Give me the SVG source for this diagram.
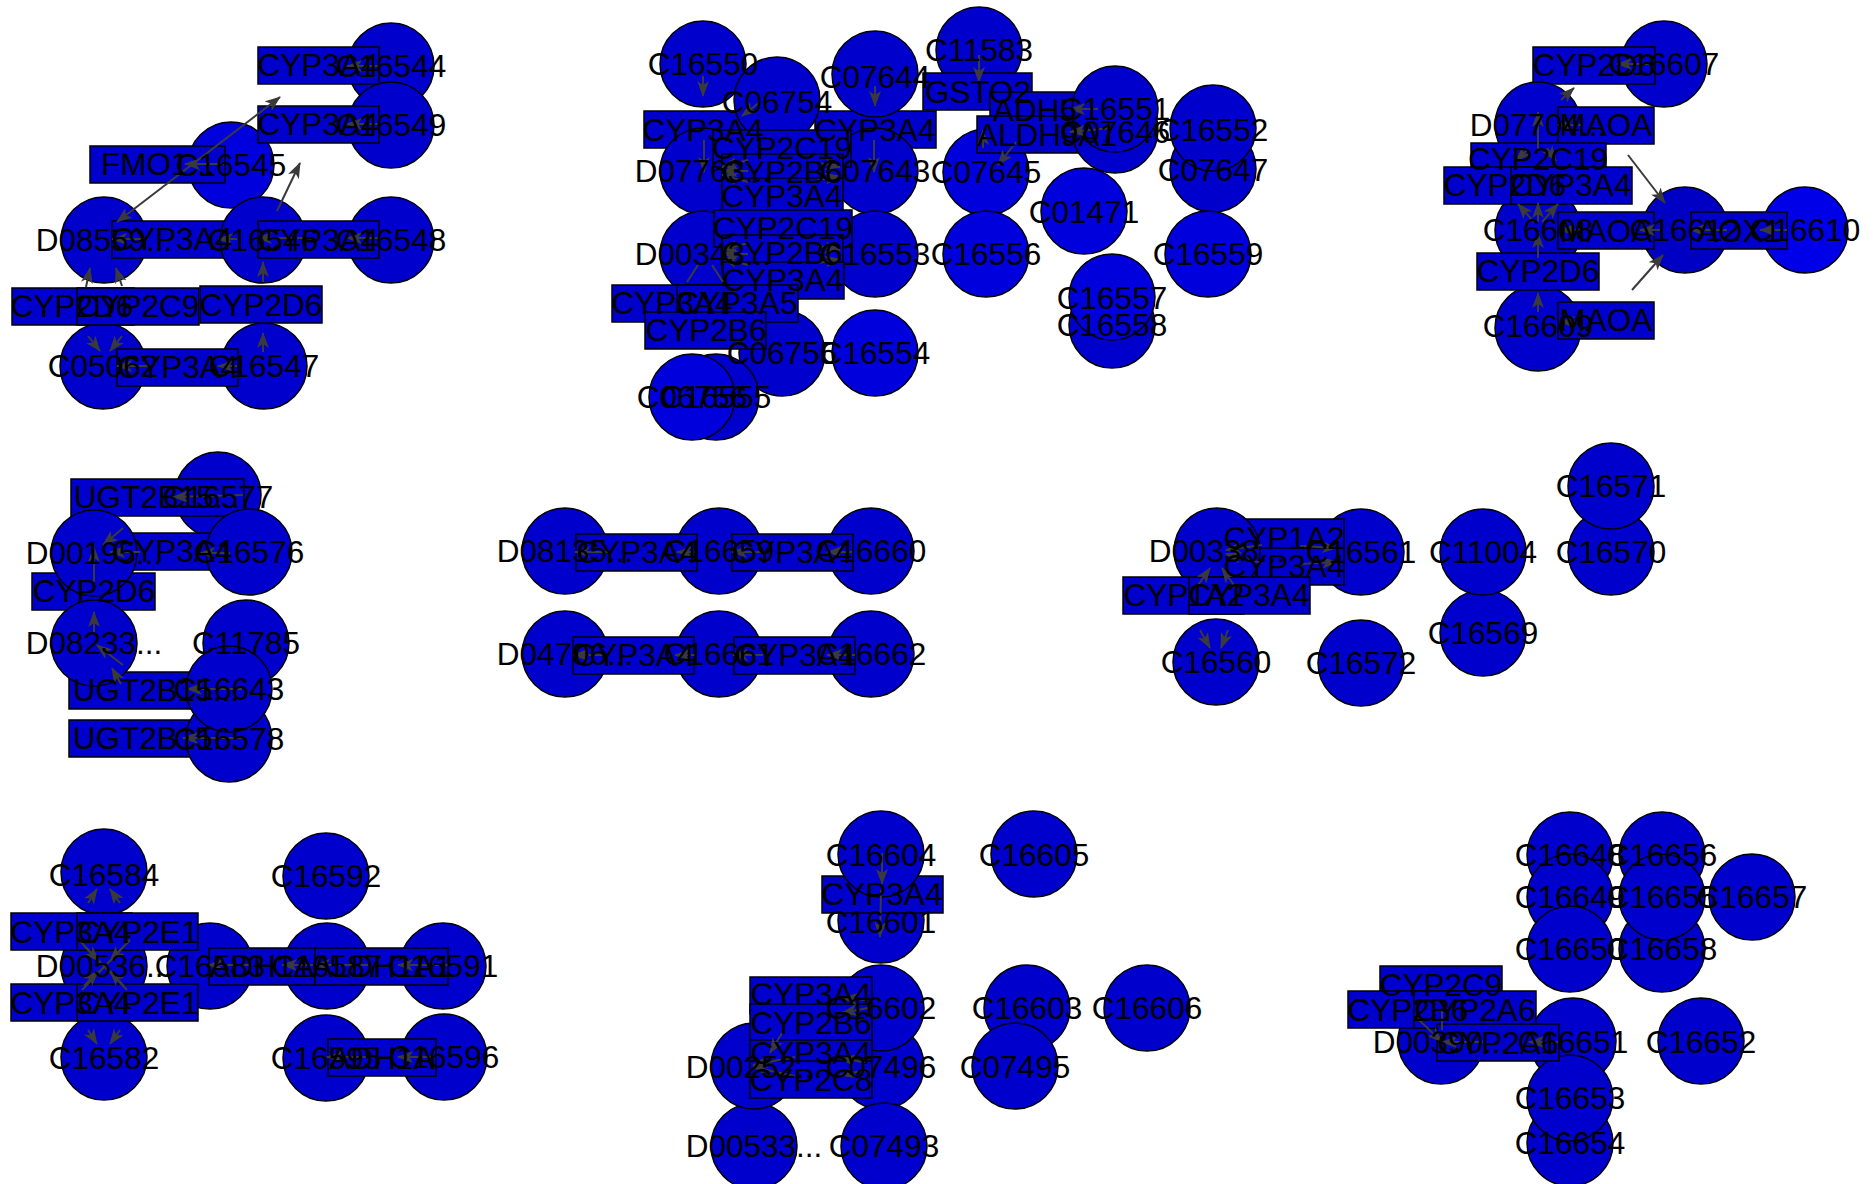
<svg xmlns="http://www.w3.org/2000/svg" width="1874" height="1184" viewBox="0 0 1874 1184">
<style>
.c{fill:#0000CC;stroke:#000;stroke-width:1.5}
.c2{fill:#0000DD;stroke:#000;stroke-width:1.5}
.r{fill:#0000CC;stroke:#000;stroke-width:1.5}
.e{stroke:#3a3a3a;stroke-width:2;fill:none;marker-end:url(#ah)}
.t{font-family:"Liberation Sans",Arial,sans-serif;font-size:31.5px;text-anchor:middle;fill:#000}
</style>
<defs>
<marker id="ah" viewBox="0 0 16 12" refX="15" refY="6" markerWidth="16" markerHeight="12" markerUnits="userSpaceOnUse" orient="auto"><path d="M0,0 L16,6 L0,12 L4,6 z" fill="#3a3a3a"/></marker>
<marker id="as" viewBox="0 0 16 12" refX="15" refY="6" markerWidth="16" markerHeight="12" markerUnits="userSpaceOnUse" orient="auto-start-reverse"><path d="M0,0 L16,6 L0,12 L4,6 z" fill="#3a3a3a"/></marker>
</defs>
<rect width="1874" height="1184" fill="#fff"/>
<g id="nodes">
<!-- top-left -->
<g id="n-C16544"><circle class="c" cx="391" cy="66" r="43"/></g>
<g id="n-C16549"><circle class="c" cx="391" cy="125" r="43"/></g>
<g id="n-C16545"><circle class="c2" cx="231" cy="165" r="43"/></g>
<g id="n-D08559"><circle class="c" cx="104" cy="240" r="43"/></g>
<g id="n-C05062"><circle class="c" cx="103" cy="366" r="43"/></g>
<g id="n-C16547"><circle class="c" cx="264" cy="366" r="43"/></g>
<g id="n-C16548"><circle class="c" cx="391" cy="240" r="43"/></g>
<g id="n-CYP3A4-a1"><rect class="r" x="258" y="47" width="121" height="37"/></g>
<g id="n-CYP3A4-a2"><rect class="r" x="258" y="106" width="121" height="37"/></g>
<g id="n-FMO1"><rect class="r" x="90" y="146" width="135" height="37"/></g>
<g id="n-CYP3A4-a3"><rect class="r" x="112" y="221" width="121" height="37"/></g>
<g id="n-C16546"><circle class="c" cx="263" cy="240" r="43"/></g>
<g id="n-CYP3A4-a4"><rect class="r" x="258" y="221" width="121" height="37"/></g>
<g id="n-CYP2D6-a1"><rect class="r" x="12" y="288" width="122" height="37"/></g>
<g id="n-CYP2C9-a1"><rect class="r" x="77" y="288" width="122" height="37"/></g>
<g id="n-CYP2D6-a2"><rect class="r" x="200" y="286" width="122" height="37"/></g>
<g id="n-CYP3A4-a5"><rect class="r" x="117" y="349" width="121" height="37"/></g>
<!-- top-middle -->
<g id="n-CYP3A4-b1"><rect class="r" x="644" y="111" width="120" height="37"/></g>
<g id="n-CYP3A4-b2"><rect class="r" x="815" y="111" width="121" height="37"/></g>
<g id="n-C16550"><circle class="c" cx="703" cy="64" r="43"/></g>
<g id="n-C06754"><circle class="c" cx="777" cy="100" r="43"/></g>
<g id="n-C07644"><circle class="c" cx="875" cy="74" r="43"/></g>
<g id="n-C11583"><circle class="c" cx="979" cy="50" r="43"/></g>
<g id="n-D07763"><circle class="c" cx="703" cy="171" r="43"/></g>
<g id="n-C07643"><circle class="c" cx="875" cy="171" r="43"/></g>
<g id="n-C07645"><circle class="c2" cx="986" cy="172" r="43"/></g>
<g id="n-GSTO2"><rect class="r" x="923" y="73" width="109" height="37"/></g>
<g id="n-ADH5"><rect class="r" x="990" y="92" width="90" height="37"/></g>
<g id="n-ALDH9A1"><rect class="r" x="977" y="116" width="140" height="37"/></g>
<g id="n-C07646"><circle class="c" cx="1115" cy="130" r="43"/></g>
<g id="n-C16551"><circle class="c" cx="1115" cy="109" r="43"/></g>
<g id="n-C07647"><circle class="c" cx="1213" cy="169" r="43"/></g>
<g id="n-C16552"><circle class="c" cx="1213" cy="128" r="43"/></g>
<g id="n-C01471"><circle class="c2" cx="1084" cy="211" r="43"/></g>
<g id="n-D00343"><circle class="c" cx="703" cy="254" r="43"/></g>
<g id="n-C16553"><circle class="c" cx="875" cy="254" r="43"/></g>
<g id="n-C16556"><circle class="c2" cx="986" cy="254" r="43"/></g>
<g id="n-C16559"><circle class="c2" cx="1208" cy="254" r="43"/></g>
<g id="n-C16558"><circle class="c" cx="1112" cy="325" r="43"/></g>
<g id="n-C16557"><circle class="c2" cx="1112" cy="297" r="43"/></g>
<g id="n-C06755"><circle class="c" cx="782" cy="353" r="43"/></g>
<g id="n-C16554"><circle class="c2" cx="875" cy="353" r="43"/></g>
<g id="n-C06756"><circle class="c" cx="716" cy="397" r="43"/></g>
<g id="n-C16555"><circle class="c2" cx="692" cy="397" r="43"/></g>
<g id="n-CYP2C19-b1"><rect class="r" x="713" y="130" width="138" height="37"/></g>
<g id="n-CYP2B6-b1"><rect class="r" x="722" y="154" width="121" height="37"/></g>
<g id="n-CYP3A4-b3"><rect class="r" x="722" y="178" width="121" height="37"/></g>
<g id="n-CYP2C19-b2"><rect class="r" x="714" y="210" width="138" height="37"/></g>
<g id="n-CYP2B6-b2"><rect class="r" x="722" y="235" width="121" height="37"/></g>
<g id="n-CYP3A4-b4"><rect class="r" x="723" y="262" width="121" height="37"/></g>
<g id="n-CYP3A4-b5"><rect class="r" x="612" y="285" width="121" height="37"/></g>
<g id="n-CYP3A5-b1"><rect class="r" x="677" y="285" width="121" height="37"/></g>
<g id="n-CYP2B6-b3"><rect class="r" x="645" y="312" width="121" height="37"/></g>
<!-- top-right -->
<g id="n-C16607"><circle class="c" cx="1664" cy="64" r="43"/></g>
<g id="n-CYP2D6-c1"><rect class="r" x="1533" y="47" width="122" height="37"/></g>
<g id="n-D07704"><circle class="c" cx="1538" cy="125" r="43"/></g>
<g id="n-MAOA-c1"><rect class="r" x="1558" y="107" width="96" height="37"/></g>
<g id="n-C16608"><circle class="c" cx="1538" cy="230" r="43"/></g>
<g id="n-CYP2C19-c1"><rect class="r" x="1471" y="143" width="135" height="37"/></g>
<g id="n-CYP2D6-c2"><rect class="r" x="1444" y="167" width="122" height="37"/></g>
<g id="n-CYP3A4-c1"><rect class="r" x="1511" y="167" width="121" height="37"/></g>
<g id="n-C16612"><circle class="c" cx="1685" cy="230" r="43" style="fill:#0000C4"/></g>
<g id="n-C16610"><circle class="c" cx="1805" cy="230" r="43" style="fill:#0000E8"/></g>
<g id="n-MAOA-c2"><rect class="r" x="1558" y="212" width="96" height="37"/></g>
<g id="n-AOX1"><rect class="r" x="1691" y="212" width="96" height="37"/></g>
<g id="n-C16609"><circle class="c" cx="1538" cy="328" r="43"/></g>
<g id="n-CYP2D6-c3"><rect class="r" x="1477" y="253" width="122" height="37"/></g>
<g id="n-MAOA-c3"><rect class="r" x="1558" y="302" width="96" height="37"/></g>
<!-- mid-left -->
<g id="n-C16577"><circle class="c" cx="218" cy="495" r="43"/></g>
<g id="n-UGT2B-d1"><rect class="r" x="71" y="479" width="173" height="37"/></g>
<g id="n-CYP3A4-d1"><rect class="r" x="111" y="533" width="121" height="37"/></g>
<g id="n-CYP2D6-d1"><rect class="r" x="32" y="573" width="123" height="37"/></g>
<g id="n-UGT2B-d2"><rect class="r" x="69" y="672" width="174" height="37"/></g>
<g id="n-UGT2B-d3"><rect class="r" x="69" y="720" width="174" height="37"/></g>
<g id="n-D00195"><circle class="c" cx="94" cy="553" r="43"/></g>
<g id="n-C16576"><circle class="c" cx="249" cy="552" r="43"/></g>
<g id="n-D08233"><circle class="c" cx="94" cy="643" r="43"/></g>
<g id="n-C11785"><circle class="c" cx="246" cy="643" r="43"/></g>
<g id="n-C16578"><circle class="c" cx="229" cy="739" r="43"/></g>
<g id="n-C16643"><circle class="c" cx="229" cy="689" r="43"/></g>
<!-- mid-middle -->
<g id="n-D08135"><circle class="c" cx="565" cy="551" r="43"/></g>
<g id="n-C16659"><circle class="c" cx="719" cy="551" r="43"/></g>
<g id="n-C16660"><circle class="c" cx="871" cy="551" r="43"/></g>
<g id="n-D04706"><circle class="c" cx="565" cy="654" r="43"/></g>
<g id="n-C16661"><circle class="c" cx="719" cy="654" r="43"/></g>
<g id="n-C16662"><circle class="c" cx="871" cy="654" r="43"/></g>
<g id="n-CYP3A4-e1"><rect class="r" x="576" y="534" width="121" height="37"/></g>
<g id="n-CYP3A4-e2"><rect class="r" x="732" y="534" width="121" height="37"/></g>
<g id="n-CYP3A4-e3"><rect class="r" x="573" y="637" width="121" height="37"/></g>
<g id="n-CYP3A4-e4"><rect class="r" x="734" y="637" width="121" height="37"/></g>
<!-- mid-right -->
<g id="n-C16561"><circle class="c" cx="1361" cy="552" r="43"/></g>
<g id="n-CYP1A2-f1"><rect class="r" x="1223" y="519" width="121" height="37"/></g>
<g id="n-CYP3A4-f1"><rect class="r" x="1223" y="548" width="121" height="37"/></g>
<g id="n-D00338"><circle class="c" cx="1217" cy="551" r="43"/></g>
<g id="n-CYP1A2-f2"><rect class="r" x="1123" y="577" width="121" height="37"/></g>
<g id="n-CYP3A4-f2"><rect class="r" x="1189" y="577" width="121" height="37"/></g>
<g id="n-C16569"><circle class="c" cx="1483" cy="633" r="43"/></g>
<g id="n-C11004"><circle class="c" cx="1483" cy="552" r="43"/></g>
<g id="n-C16570"><circle class="c" cx="1611" cy="552" r="43"/></g>
<g id="n-C16571"><circle class="c" cx="1611" cy="486" r="43"/></g>
<g id="n-C16560"><circle class="c" cx="1216" cy="662" r="43"/></g>
<g id="n-C16572"><circle class="c" cx="1361" cy="663" r="43"/></g>
<!-- bottom-left -->
<g id="n-C16584"><circle class="c" cx="104" cy="872" r="43"/></g>
<g id="n-C16592"><circle class="c" cx="326" cy="876" r="43"/></g>
<g id="n-D00536"><circle class="c" cx="104" cy="966" r="43"/></g>
<g id="n-C16583"><circle class="c" cx="210" cy="966" r="43"/></g>
<g id="n-C16587"><circle class="c" cx="327" cy="966" r="43"/></g>
<g id="n-C16591"><circle class="c" cx="443" cy="966" r="43"/></g>
<g id="n-C16582"><circle class="c" cx="104" cy="1057" r="43"/></g>
<g id="n-C16595"><circle class="c" cx="326" cy="1058" r="43"/></g>
<g id="n-C16596"><circle class="c" cx="444" cy="1057" r="43"/></g>
<g id="n-CYP3A4-g1"><rect class="r" x="11" y="913" width="121" height="37"/></g>
<g id="n-CYP2E1-g1"><rect class="r" x="77" y="913" width="121" height="37"/></g>
<g id="n-CYP3A4-g2"><rect class="r" x="11" y="984" width="121" height="37"/></g>
<g id="n-CYP2E1-g2"><rect class="r" x="77" y="984" width="121" height="37"/></g>
<g id="n-ADH1A-g1"><rect class="r" x="209" y="948" width="106" height="37"/></g>
<g id="n-ALDH1A1-g1"><rect class="r" x="315" y="948" width="133" height="37"/></g>
<g id="n-ADH1A-g2"><rect class="r" x="328" y="1039" width="108" height="37"/></g>
<!-- bottom-middle -->
<g id="n-C16601"><circle class="c" cx="881" cy="920" r="43"/></g>
<g id="n-CYP3A4-h1"><rect class="r" x="822" y="876" width="121" height="37"/></g>
<g id="n-C16604"><circle class="c" cx="881" cy="854" r="43"/></g>
<g id="n-C16605"><circle class="c" cx="1034" cy="854" r="43"/></g>
<g id="n-C07496"><circle class="c" cx="881" cy="1066" r="43"/></g>
<g id="n-C16602"><circle class="c" cx="881" cy="1008" r="43"/></g>
<g id="n-C16603"><circle class="c" cx="1027" cy="1008" r="43"/></g>
<g id="n-C07495"><circle class="c" cx="1015" cy="1066" r="43"/></g>
<g id="n-C16606"><circle class="c" cx="1147" cy="1008" r="43"/></g>
<g id="n-D00533"><circle class="c" cx="754" cy="1146" r="43"/></g>
<g id="n-D00252"><circle class="c" cx="754" cy="1066" r="43"/></g>
<g id="n-C07493"><circle class="c" cx="884" cy="1146" r="43"/></g>
<g id="n-CYP3A4-h2"><rect class="r" x="750" y="977" width="122" height="37"/></g>
<g id="n-CYP2B6-h1"><rect class="r" x="750" y="1004" width="122" height="37"/></g>
<g id="n-CYP3A4-h3"><rect class="r" x="750" y="1040" width="122" height="37"/></g>
<g id="n-CYP2C8-h1"><rect class="r" x="750" y="1061" width="122" height="37"/></g>
<!-- bottom-right -->
<g id="n-C16648"><circle class="c" cx="1570" cy="855" r="43"/></g>
<g id="n-C16649"><circle class="c" cx="1570" cy="897" r="43"/></g>
<g id="n-C16650"><circle class="c" cx="1570" cy="949" r="43"/></g>
<g id="n-C16656"><circle class="c" cx="1662" cy="855" r="43"/></g>
<g id="n-C16658"><circle class="c" cx="1662" cy="949" r="43"/></g>
<g id="n-C16655"><circle class="c" cx="1662" cy="897" r="43"/></g>
<g id="n-C16657"><circle class="c" cx="1752" cy="897" r="43"/></g>
<g id="n-D00390"><circle class="c" cx="1441" cy="1041" r="43"/></g>
<g id="n-C16651"><circle class="c" cx="1573" cy="1041" r="43"/></g>
<g id="n-C16652"><circle class="c" cx="1701" cy="1041" r="43"/></g>
<g id="n-C16654"><circle class="c" cx="1570" cy="1143" r="43"/></g>
<g id="n-C16653"><circle class="c" cx="1570" cy="1098" r="43"/></g>
<g id="n-CYP2C9-i1"><rect class="r" x="1380" y="966" width="122" height="37"/></g>
<g id="n-CYP2B6-i1"><rect class="r" x="1348" y="991" width="121" height="37"/></g>
<g id="n-CYP2A6-i1"><rect class="r" x="1414" y="991" width="122" height="37"/></g>
<g id="n-CYP2A6-i2"><rect class="r" x="1437" y="1024" width="122" height="37"/></g>
</g>
<g id="connectors">
<!-- top-left -->
<line class="e" x1="378" y1="66" x2="347" y2="66"/>
<line class="e" x1="378" y1="124" x2="347" y2="124"/>
<line class="e" x1="117" y1="222" x2="280" y2="97" marker-start="url(#as)"/>
<line class="e" x1="224" y1="164" x2="185" y2="164"/>
<line class="e" x1="277" y1="211" x2="300" y2="163"/>
<line class="e" x1="148" y1="239" x2="112" y2="239"/>
<line class="e" x1="237" y1="239" x2="218" y2="239"/>
<line class="e" x1="307" y1="238" x2="257" y2="238"/>
<line class="e" x1="378" y1="238" x2="347" y2="238"/>
<line class="e" x1="86" y1="287" x2="90" y2="268"/>
<line class="e" x1="122" y1="286" x2="116" y2="268"/>
<line class="e" x1="263" y1="282" x2="263" y2="262"/>
<line class="e" x1="88" y1="336" x2="100" y2="351"/>
<line class="e" x1="122" y1="336" x2="110" y2="351"/>
<line class="e" x1="148" y1="366" x2="117" y2="366"/>
<line class="e" x1="237" y1="366" x2="218" y2="366"/>
<line class="e" x1="263" y1="352" x2="263" y2="333"/>
<!-- top-middle -->
<line class="e" x1="703" y1="76" x2="703" y2="96"/>
<line class="e" x1="760" y1="102" x2="742" y2="116"/>
<line class="e" x1="875" y1="86" x2="875" y2="106"/>
<line class="e" x1="979" y1="55" x2="979" y2="82"/>
<line class="e" x1="704" y1="140" x2="704" y2="172"/>
<line class="e" x1="874" y1="140" x2="874" y2="172"/>
<line class="e" x1="748" y1="160" x2="722" y2="167"/>
<line class="e" x1="748" y1="171" x2="722" y2="171"/>
<line class="e" x1="748" y1="182" x2="722" y2="175"/>
<line class="e" x1="818" y1="163" x2="840" y2="167"/>
<line class="e" x1="818" y1="180" x2="840" y2="176"/>
<line class="e" x1="748" y1="243" x2="722" y2="250"/>
<line class="e" x1="748" y1="254" x2="722" y2="254"/>
<line class="e" x1="748" y1="265" x2="722" y2="258"/>
<line class="e" x1="818" y1="246" x2="840" y2="250"/>
<line class="e" x1="818" y1="263" x2="840" y2="259"/>
<line stroke="#3a3a3a" stroke-width="2" x1="698" y1="265" x2="687" y2="282"/>
<line stroke="#3a3a3a" stroke-width="2" x1="712" y1="265" x2="723" y2="282"/>
<line class="e" x1="1098" y1="109" x2="1070" y2="109"/>
<line class="e" x1="1111" y1="128" x2="1070" y2="132"/>
<line class="e" x1="1016" y1="142" x2="998" y2="165"/>
<line class="e" x1="983" y1="148" x2="983" y2="130"/>
<!-- top-right -->
<line class="e" x1="1653" y1="64" x2="1617" y2="64"/>
<line class="e" x1="1561" y1="100" x2="1574" y2="88"/>
<line class="e" x1="1582" y1="125" x2="1558" y2="125"/>
<line class="e" x1="1538" y1="152" x2="1538" y2="112"/>
<line class="e" x1="1528" y1="149" x2="1516" y2="161"/>
<line class="e" x1="1547" y1="148" x2="1556" y2="161"/>
<line class="e" x1="1628" y1="155" x2="1665" y2="203"/>
<line class="e" x1="1534" y1="222" x2="1518" y2="204"/>
<line class="e" x1="1538" y1="222" x2="1538" y2="203"/>
<line class="e" x1="1542" y1="222" x2="1558" y2="204"/>
<line class="e" x1="1582" y1="230" x2="1560" y2="230"/>
<line class="e" x1="1660" y1="230" x2="1640" y2="230"/>
<line class="e" x1="1727" y1="230" x2="1690" y2="230"/>
<line class="e" x1="1787" y1="230" x2="1760" y2="230"/>
<line class="e" x1="1538" y1="258" x2="1538" y2="233"/>
<line class="e" x1="1538" y1="312" x2="1538" y2="293"/>
<line class="e" x1="1580" y1="322" x2="1560" y2="322"/>
<line class="e" x1="1632" y1="290" x2="1663" y2="255"/>
<!-- mid-left -->
<line class="e" x1="243" y1="495" x2="173" y2="497"/>
<line class="e" x1="123" y1="528" x2="103" y2="545"/>
<line class="e" x1="140" y1="552" x2="110" y2="552"/>
<line class="e" x1="230" y1="553" x2="200" y2="553"/>
<line class="e" x1="94" y1="583" x2="94" y2="547"/>
<line class="e" x1="94" y1="632" x2="94" y2="612"/>
<line class="e" x1="123" y1="665" x2="97" y2="645"/>
<line class="e" x1="121" y1="684" x2="112" y2="668"/>
<line class="e" x1="242" y1="689" x2="187" y2="689"/>
<line class="e" x1="242" y1="738" x2="183" y2="738"/>
<!-- mid-middle -->
<line class="e" x1="608" y1="552" x2="575" y2="552"/>
<line class="e" x1="696" y1="552" x2="677" y2="552"/>
<line class="e" x1="763" y1="552" x2="732" y2="552"/>
<line class="e" x1="852" y1="552" x2="827" y2="552"/>
<line class="e" x1="608" y1="655" x2="573" y2="655"/>
<line class="e" x1="695" y1="655" x2="675" y2="655"/>
<line class="e" x1="763" y1="655" x2="733" y2="655"/>
<line class="e" x1="855" y1="655" x2="827" y2="655"/>
<!-- mid-right -->
<line class="e" x1="1262" y1="545" x2="1226" y2="550"/>
<line class="e" x1="1262" y1="563" x2="1226" y2="554"/>
<line class="e" x1="1300" y1="546" x2="1337" y2="548"/>
<line class="e" x1="1300" y1="564" x2="1337" y2="562"/>
<line class="e" x1="1196" y1="588" x2="1210" y2="568"/>
<line class="e" x1="1236" y1="588" x2="1222" y2="568"/>
<line class="e" x1="1200" y1="630" x2="1210" y2="648"/>
<line class="e" x1="1228" y1="630" x2="1221" y2="648"/>
<!-- bottom-left -->
<line class="e" x1="88" y1="903" x2="97" y2="889"/>
<line class="e" x1="120" y1="903" x2="110" y2="889"/>
<line stroke="#3a3a3a" stroke-width="2" x1="79" y1="940" x2="127" y2="990"/>
<line stroke="#3a3a3a" stroke-width="2" x1="130" y1="940" x2="82" y2="990"/>
<line class="e" x1="84" y1="946" x2="99" y2="961"/>
<line class="e" x1="124" y1="946" x2="110" y2="961"/>
<line class="e" x1="84" y1="986" x2="98" y2="971"/>
<line class="e" x1="124" y1="986" x2="110" y2="971"/>
<line class="e" x1="88" y1="1030" x2="97" y2="1044"/>
<line class="e" x1="120" y1="1030" x2="110" y2="1044"/>
<line class="e" x1="252" y1="965" x2="208" y2="965"/>
<line class="e" x1="313" y1="965" x2="282" y2="965"/>
<line class="e" x1="368" y1="965" x2="315" y2="965"/>
<line class="e" x1="448" y1="965" x2="398" y2="965"/>
<line class="e" x1="368" y1="1057" x2="327" y2="1057"/>
<line class="e" x1="435" y1="1057" x2="398" y2="1057"/>
<!-- bottom-middle -->
<line class="e" x1="882" y1="853" x2="882" y2="884"/>
<line class="e" x1="881" y1="890" x2="880" y2="937"/>
<line class="e" x1="868" y1="1000" x2="842" y2="998"/>
<line class="e" x1="868" y1="1008" x2="842" y2="1013"/>
<line class="e" x1="782" y1="1033" x2="770" y2="1053"/>
<line class="e" x1="795" y1="1057" x2="753" y2="1065"/>
<line class="e" x1="795" y1="1076" x2="753" y2="1067"/>
<line class="e" x1="868" y1="1063" x2="840" y2="1058"/>
<line class="e" x1="868" y1="1070" x2="840" y2="1075"/>
<!-- bottom-right -->
<line class="e" x1="1416" y1="1017" x2="1442" y2="1042"/>
<line stroke="#3a3a3a" stroke-width="2" x1="1442" y1="1010" x2="1442" y2="1030"/>
<line class="e" x1="1483" y1="1042" x2="1442" y2="1042"/>
<line class="e" x1="1558" y1="1042" x2="1529" y2="1042"/>
</g>
<g id="labels" class="t">
<text x="391" y="77">C16544</text>
<text x="391" y="136">C16549</text>
<text x="231" y="176">C16545</text>
<text x="104" y="251">D08559...</text>
<text x="263" y="251">C16546</text>
<text x="391" y="251">C16548</text>
<text x="103" y="377">C05062</text>
<text x="264" y="377">C16547</text>
<text x="318" y="76">CYP3A4</text>
<text x="318" y="135">CYP3A4</text>
<text x="158" y="175">FMO1...</text>
<text x="172" y="250">CYP3A4</text>
<text x="318" y="251">CYP3A4</text>
<text x="72" y="317">CYP2D6</text>
<text x="138" y="317">CYP2C9</text>
<text x="261" y="316">CYP2D6</text>
<text x="178" y="378">CYP3A4</text>
<text x="703" y="75">C16550</text>
<text x="777" y="113">C06754</text>
<text x="875" y="88">C07644</text>
<text x="979" y="61">C11583</text>
<text x="703" y="182">D07763...</text>
<text x="875" y="182">C07643</text>
<text x="986" y="183">C07645</text>
<text x="978" y="103">GSTO2</text>
<text x="1035" y="121">ADH5</text>
<text x="1047" y="146">ALDH9A1</text>
<text x="1115" y="120">C16551</text>
<text x="1115" y="143">C07646</text>
<text x="1213" y="141">C16552</text>
<text x="1213" y="181">C07647</text>
<text x="1084" y="223">C01471</text>
<text x="703" y="265">D00343...</text>
<text x="875" y="265">C16553</text>
<text x="986" y="265">C16556</text>
<text x="1208" y="265">C16559</text>
<text x="1112" y="309">C16557</text>
<text x="1112" y="336">C16558</text>
<text x="782" y="364">C06755</text>
<text x="875" y="364">C16554</text>
<text x="692" y="408">C06756</text>
<text x="716" y="408">C16555</text>
<text x="703" y="141">CYP3A4</text>
<text x="875" y="141">CYP3A4</text>
<text x="782" y="159">CYP2C19</text>
<text x="782" y="183">CYP2B6</text>
<text x="782" y="207">CYP3A4</text>
<text x="783" y="239">CYP2C19</text>
<text x="782" y="264">CYP2B6</text>
<text x="783" y="291">CYP3A4</text>
<text x="672" y="314">CYP3A4</text>
<text x="737" y="314">CYP3A5</text>
<text x="706" y="341">CYP2B6</text>
<text x="1664" y="75">C16607</text>
<text x="1594" y="76">CYP2D6</text>
<text x="1538" y="136">D07704...</text>
<text x="1606" y="136">MAOA</text>
<text x="1538" y="241">C16608</text>
<text x="1538" y="170">CYP2C19</text>
<text x="1505" y="196">CYP2D6</text>
<text x="1571" y="196">CYP3A4</text>
<text x="1685" y="241">C16612</text>
<text x="1805" y="241">C16610</text>
<text x="1606" y="242">MAOA</text>
<text x="1739" y="242">AOX1</text>
<text x="1538" y="337">C16609</text>
<text x="1538" y="282">CYP2D6</text>
<text x="1606" y="331">MAOA</text>
<text x="218" y="508">C16577</text>
<text x="157" y="508">UGT2B15...</text>
<text x="172" y="562">CYP3A4</text>
<text x="94" y="602">CYP2D6</text>
<text x="156" y="701">UGT2B15...</text>
<text x="156" y="749">UGT2B15...</text>
<text x="94" y="564">D00195...</text>
<text x="249" y="563">C16576</text>
<text x="94" y="654">D08233...</text>
<text x="246" y="654">C11785</text>
<text x="229" y="750">C16578</text>
<text x="229" y="700">C16643</text>
<text x="565" y="562">D08135...</text>
<text x="719" y="562">C16659</text>
<text x="871" y="562">C16660</text>
<text x="565" y="665">D04706...</text>
<text x="719" y="665">C16661</text>
<text x="871" y="665">C16662</text>
<text x="637" y="563">CYP3A4</text>
<text x="792" y="563">CYP3A4</text>
<text x="634" y="666">CYP3A4</text>
<text x="795" y="666">CYP3A4</text>
<text x="1361" y="563">C16561</text>
<text x="1284" y="549">CYP1A2</text>
<text x="1284" y="577">CYP3A4</text>
<text x="1217" y="562">D00338...</text>
<text x="1184" y="606">CYP1A2</text>
<text x="1249" y="606">CYP3A4</text>
<text x="1483" y="644">C16569</text>
<text x="1483" y="563">C11004</text>
<text x="1611" y="563">C16570</text>
<text x="1611" y="497">C16571</text>
<text x="1216" y="673">C16560</text>
<text x="1361" y="674">C16572</text>
<text x="104" y="886">C16584</text>
<text x="326" y="887">C16592</text>
<text x="104" y="977">D00536...</text>
<text x="210" y="977">C16583</text>
<text x="327" y="977">C16587</text>
<text x="443" y="977">C16591</text>
<text x="104" y="1069">C16582</text>
<text x="326" y="1069">C16595</text>
<text x="444" y="1068">C16596</text>
<text x="71" y="943">CYP3A4</text>
<text x="138" y="943">CYP2E1</text>
<text x="71" y="1014">CYP3A4</text>
<text x="138" y="1014">CYP2E1</text>
<text x="262" y="977">ADH1A</text>
<text x="382" y="977">ALDH1A1</text>
<text x="382" y="1069">ADH1A</text>
<text x="881" y="866">C16604</text>
<text x="1034" y="866">C16605</text>
<text x="881" y="933">C16601</text>
<text x="882" y="905">CYP3A4</text>
<text x="881" y="1019">C16602</text>
<text x="1027" y="1019">C16603</text>
<text x="1147" y="1019">C16606</text>
<text x="754" y="1078">D00252...</text>
<text x="881" y="1078">C07496</text>
<text x="1015" y="1078">C07495</text>
<text x="754" y="1157">D00533...</text>
<text x="884" y="1157">C07493</text>
<text x="811" y="1005">CYP3A4</text>
<text x="811" y="1034">CYP2B6</text>
<text x="811" y="1064">CYP3A4</text>
<text x="811" y="1091">CYP2C8</text>
<text x="1570" y="866">C16648</text>
<text x="1662" y="866">C16656</text>
<text x="1570" y="908">C16649</text>
<text x="1662" y="908">C16655</text>
<text x="1752" y="908">C16657</text>
<text x="1570" y="960">C16650</text>
<text x="1662" y="960">C16658</text>
<text x="1441" y="1053">D00390...</text>
<text x="1573" y="1053">C16651</text>
<text x="1701" y="1053">C16652</text>
<text x="1570" y="1109">C16653</text>
<text x="1570" y="1154">C16654</text>
<text x="1441" y="996">CYP2C9</text>
<text x="1408" y="1021">CYP2B6</text>
<text x="1475" y="1021">CYP2A6</text>
<text x="1498" y="1054">CYP2A6</text>
</g>
</svg>
